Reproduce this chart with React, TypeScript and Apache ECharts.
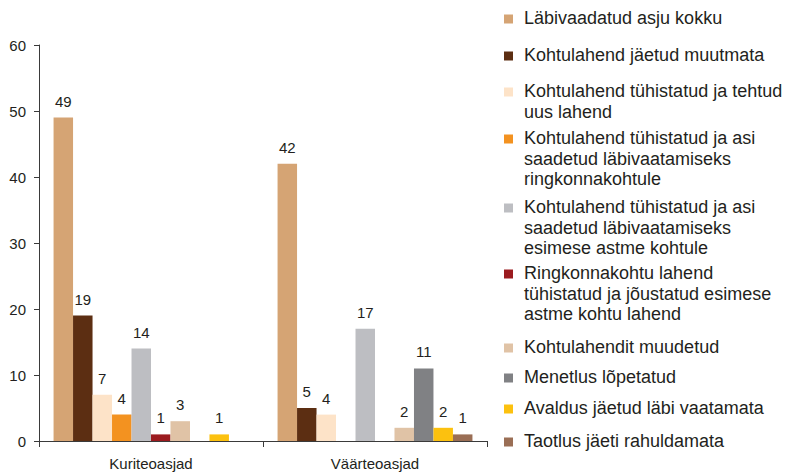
import React, { useEffect, useRef } from "react";
import * as echarts from "echarts";

const categories = ["Kuriteoasjad", "Väärteoasjad"];

const seriesNames = [
  "Läbivaadatud asju kokku",
  "Kohtulahend jäetud muutmata",
  "Kohtulahend tühistatud ja tehtud\nuus lahend",
  "Kohtulahend tühistatud ja asi\nsaadetud läbivaatamiseks\nringkonnakohtule",
  "Kohtulahend tühistatud ja asi\nsaadetud läbivaatamiseks\nesimese astme kohtule",
  "Ringkonnakohtu lahend\ntühistatud ja jõustatud esimese\nastme kohtu lahend",
  "Kohtulahendit muudetud",
  "Menetlus lõpetatud",
  "Avaldus jäetud läbi vaatamata",
  "Taotlus jäeti rahuldamata",
];

const labivaadatud = [49, 42];
const jaetudMuutmata = [19, 5];
const uusLahend = [7, 4];
const ringkonnakohtule = [4, null];
const esimeseAstme = [14, 17];
const joustatud = [1, null];
const muudetud = [3, 2];
const lopetatud = [null, 11];
const labiVaatamata = [1, 2];
const rahuldamata = [null, 1];

const seriesValues = [
  labivaadatud,
  jaetudMuutmata,
  uusLahend,
  ringkonnakohtule,
  esimeseAstme,
  joustatud,
  muudetud,
  lopetatud,
  labiVaatamata,
  rahuldamata,
];

const colors = [
  "#D5A474",
  "#5C2E12",
  "#FDE3C8",
  "#F39220",
  "#BDBEC2",
  "#9B1B1F",
  "#E0C3A6",
  "#808184",
  "#FCC10F",
  "#9A6E55",
];

// layout: first-line centre of each legend entry
const legendLineY = [18, 55, 91, 138, 207, 273, 347, 377, 408, 441];

const FONT = "Liberation Sans";
const TEXT = "#231F20";

export default function App() {
  const ref = useRef<HTMLDivElement>(null);
  useEffect(() => {
    if (!ref.current) return;
    const chart = echarts.init(ref.current, null, { renderer: "svg" });
    const LH = 20.5;
    const legendGraphics: any[] = [];
    seriesNames.forEach((name, i) => {
      const cy = legendLineY[i];
      legendGraphics.push({
        type: "rect",
        shape: { x: 504, y: cy - 3.5, width: 9, height: 9 },
        style: { fill: colors[i] },
      });
      legendGraphics.push({
        type: "text",
        x: 524,
        y: cy - LH / 2,
        style: {
          text: name,
          fill: TEXT,
          fontFamily: FONT,
          fontSize: 18,
          lineHeight: LH,
          verticalAlign: "top",
          align: "left",
        },
      });
    });
    chart.setOption({
      animation: false,
      textStyle: { fontFamily: FONT },
      grid: { left: 39, right: 311, top: 45, bottom: 34, containLabel: false },
      xAxis: {
        type: "category",
        data: categories,
        axisLine: { lineStyle: { color: "#3a3a3a", width: 1 } },
        axisTick: { show: true, length: 6, lineStyle: { color: "#3a3a3a" } },
        axisLabel: { color: TEXT, fontSize: 15, margin: 15, fontFamily: FONT },
      },
      yAxis: {
        type: "value",
        min: 0,
        max: 60,
        interval: 10,
        axisLine: { show: true, lineStyle: { color: "#3a3a3a", width: 1 } },
        axisTick: { show: true, length: 5, lineStyle: { color: "#3a3a3a" } },
        splitLine: { show: false },
        axisLabel: { color: TEXT, fontSize: 15, margin: 13, fontFamily: FONT },
      },
      series: seriesNames.map((name, i) => ({
        name: name.replace(/\n/g, " "),
        type: "bar",
        data: seriesValues[i],
        barGap: "0%",
        barCategoryGap: "13%",
        itemStyle: { color: colors[i] },
        emphasis: { disabled: true },
        label: {
          show: true,
          position: "top",
          distance: 9,
          color: TEXT,
          fontSize: 15,
          fontFamily: FONT,
        },
      })),
      graphic: legendGraphics,
    });
    return () => chart.dispose();
  }, []);
  return (
    <div
      ref={ref}
      style={{ position: "fixed", left: 0, top: 0, width: 798, height: 475, background: "#fff" }}
    />
  );
}
